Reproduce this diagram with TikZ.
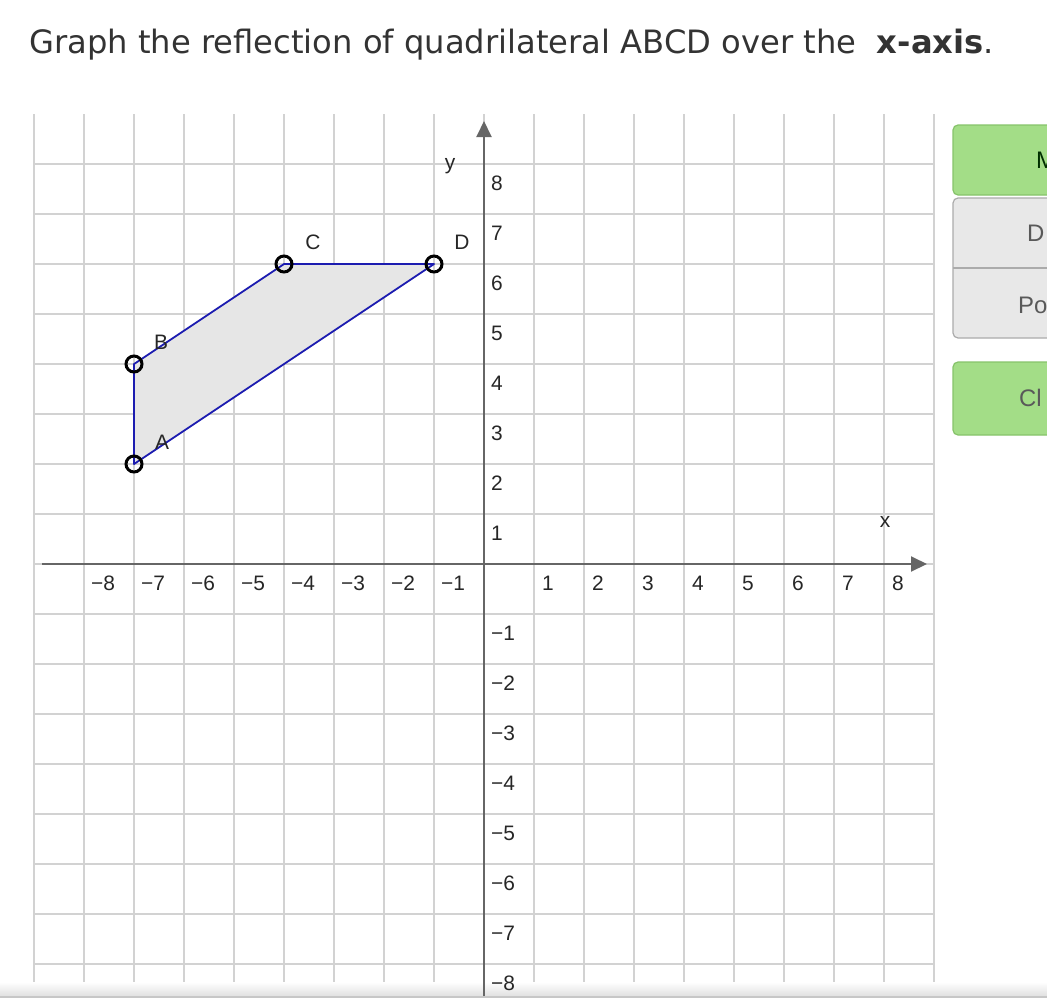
\documentclass[tikz,border=0pt]{standalone}
\usepackage{fontspec}
\setmainfont{Liberation Sans}
\newfontfamily\titlefont{DejaVu Sans}
\usetikzlibrary{arrows.meta}
\definecolor{gridc}{HTML}{D2D2D2}
\definecolor{axisc}{HTML}{666666}
\definecolor{polyc}{HTML}{1C1CB0}
\definecolor{fillc}{HTML}{E6E6E6}
\definecolor{btngreen}{HTML}{A3DD87}
\definecolor{btngreenb}{HTML}{86C36A}
\definecolor{btngray}{HTML}{E8E8E8}
\definecolor{btngrayb}{HTML}{ABABAB}
\tikzset{
  gridline/.style={gridc, line width=1.4bp},
  axisline/.style={axisc, line width=2bp},
  ticklbl/.style={font=\fontsize{21}{21}\selectfont, text=black!85, inner sep=0pt, anchor=west},
  ptlbl/.style={font=\fontsize{21}{21}\selectfont, text=black!85, inner sep=0pt},
  vertex/.style={circle, draw=black, line width=3bp, minimum size=16bp, inner sep=0pt},
  btn/.style={rounded corners=5bp, line width=1.2bp},
  btntext/.style={font=\fontsize{24}{24}\selectfont, inner sep=0pt, anchor=west}
}
\begin{document}
\begin{tikzpicture}[x=1bp, y=-1bp]
\useasboundingbox (0,0) rectangle (1047,1005);
\clip (0,0) rectangle (1047,1005);
% title
\node[anchor=west, inner sep=0pt, text=black!80, font=\titlefont\fontsize{32.3}{32.3}\selectfont] (title) at (29,45) {Graph the reflection of quadrilateral ABCD over the \ \textbf{x-axis}.};
% grid
\foreach \i in {0,...,18} {
  \draw[gridline] (34+50*\i,114) -- (34+50*\i,997);
}
\foreach \j in {0,...,16} {
  \draw[gridline] (34,164+50*\j) -- (934,164+50*\j);
}
% bottom fade
\shade[top color=white, bottom color=black!12] (0,982) rectangle (1047,996);
\fill[black!22] (0,995.5) rectangle (1047,997.5);
% axes
\coordinate (xl) at (42,564);
\coordinate (xr) at (927,564);
\coordinate (yb) at (484,996);
\coordinate (yt) at (484,121);
\draw[axisline, -{Triangle[length=16bp, width=15bp]}] (xl) -- (xr);
\draw[axisline, -{Triangle[length=16bp, width=15bp]}] (yb) -- (yt);
\node[ptlbl] (xlab) at (885,522) {x};
\node[ptlbl] (ylab) at (450,166) {y};
% tick labels
\begin{scope}[shift={(484,564)}]
\foreach \k in {1,...,8} {
  \node[ticklbl] (xp\k) at (50*\k+8,19) {\k};
  \node[ticklbl] (xn\k) at (-50*\k+7,19) {−\k};
  \node[ticklbl] (yp\k) at (7,-50*\k+19) {\k};
  \node[ticklbl] (yn\k) at (7,50*\k+19) {−\k};
}
\end{scope}
% quadrilateral
\coordinate (A) at (134,464);
\coordinate (B) at (134,364);
\coordinate (C) at (284,264);
\coordinate (D) at (434,264);
\filldraw[fill=fillc, draw=polyc, line width=1.8bp, line join=round] (A) -- (B) -- (C) -- (D) -- cycle;
\node[vertex] (pA) at (A) {};
\node[vertex] (pB) at (B) {};
\node[vertex] (pC) at (C) {};
\node[vertex] (pD) at (D) {};
\node[ptlbl] (lA) at (162,442) {A};
\node[ptlbl] (lB) at (161,342) {B};
\node[ptlbl] (lC) at (313,242) {C};
\node[ptlbl] (lD) at (462,242) {D};
% buttons
\draw[btn, fill=btngray, draw=btngrayb] (953,198) rectangle (1070,338);
\draw[btngrayb, line width=2bp] (953,268) -- (1047,268);
\draw[btn, fill=btngreen, draw=btngreenb] (953,125) rectangle (1070,195);
\draw[btn, fill=btngreen, draw=btngreenb] (953,362) rectangle (1070,435);
\node[btntext, text=black!70!green!60!black] (b1) at (1036,160) {M};
\node[btntext, text=black!65] (b2) at (1027,233) {D};
\node[btntext, text=black!65] (b3) at (1018,305) {Po};
\node[btntext, text=black!65] (b4) at (1019,398) {Cl};
\end{tikzpicture}
\end{document}
